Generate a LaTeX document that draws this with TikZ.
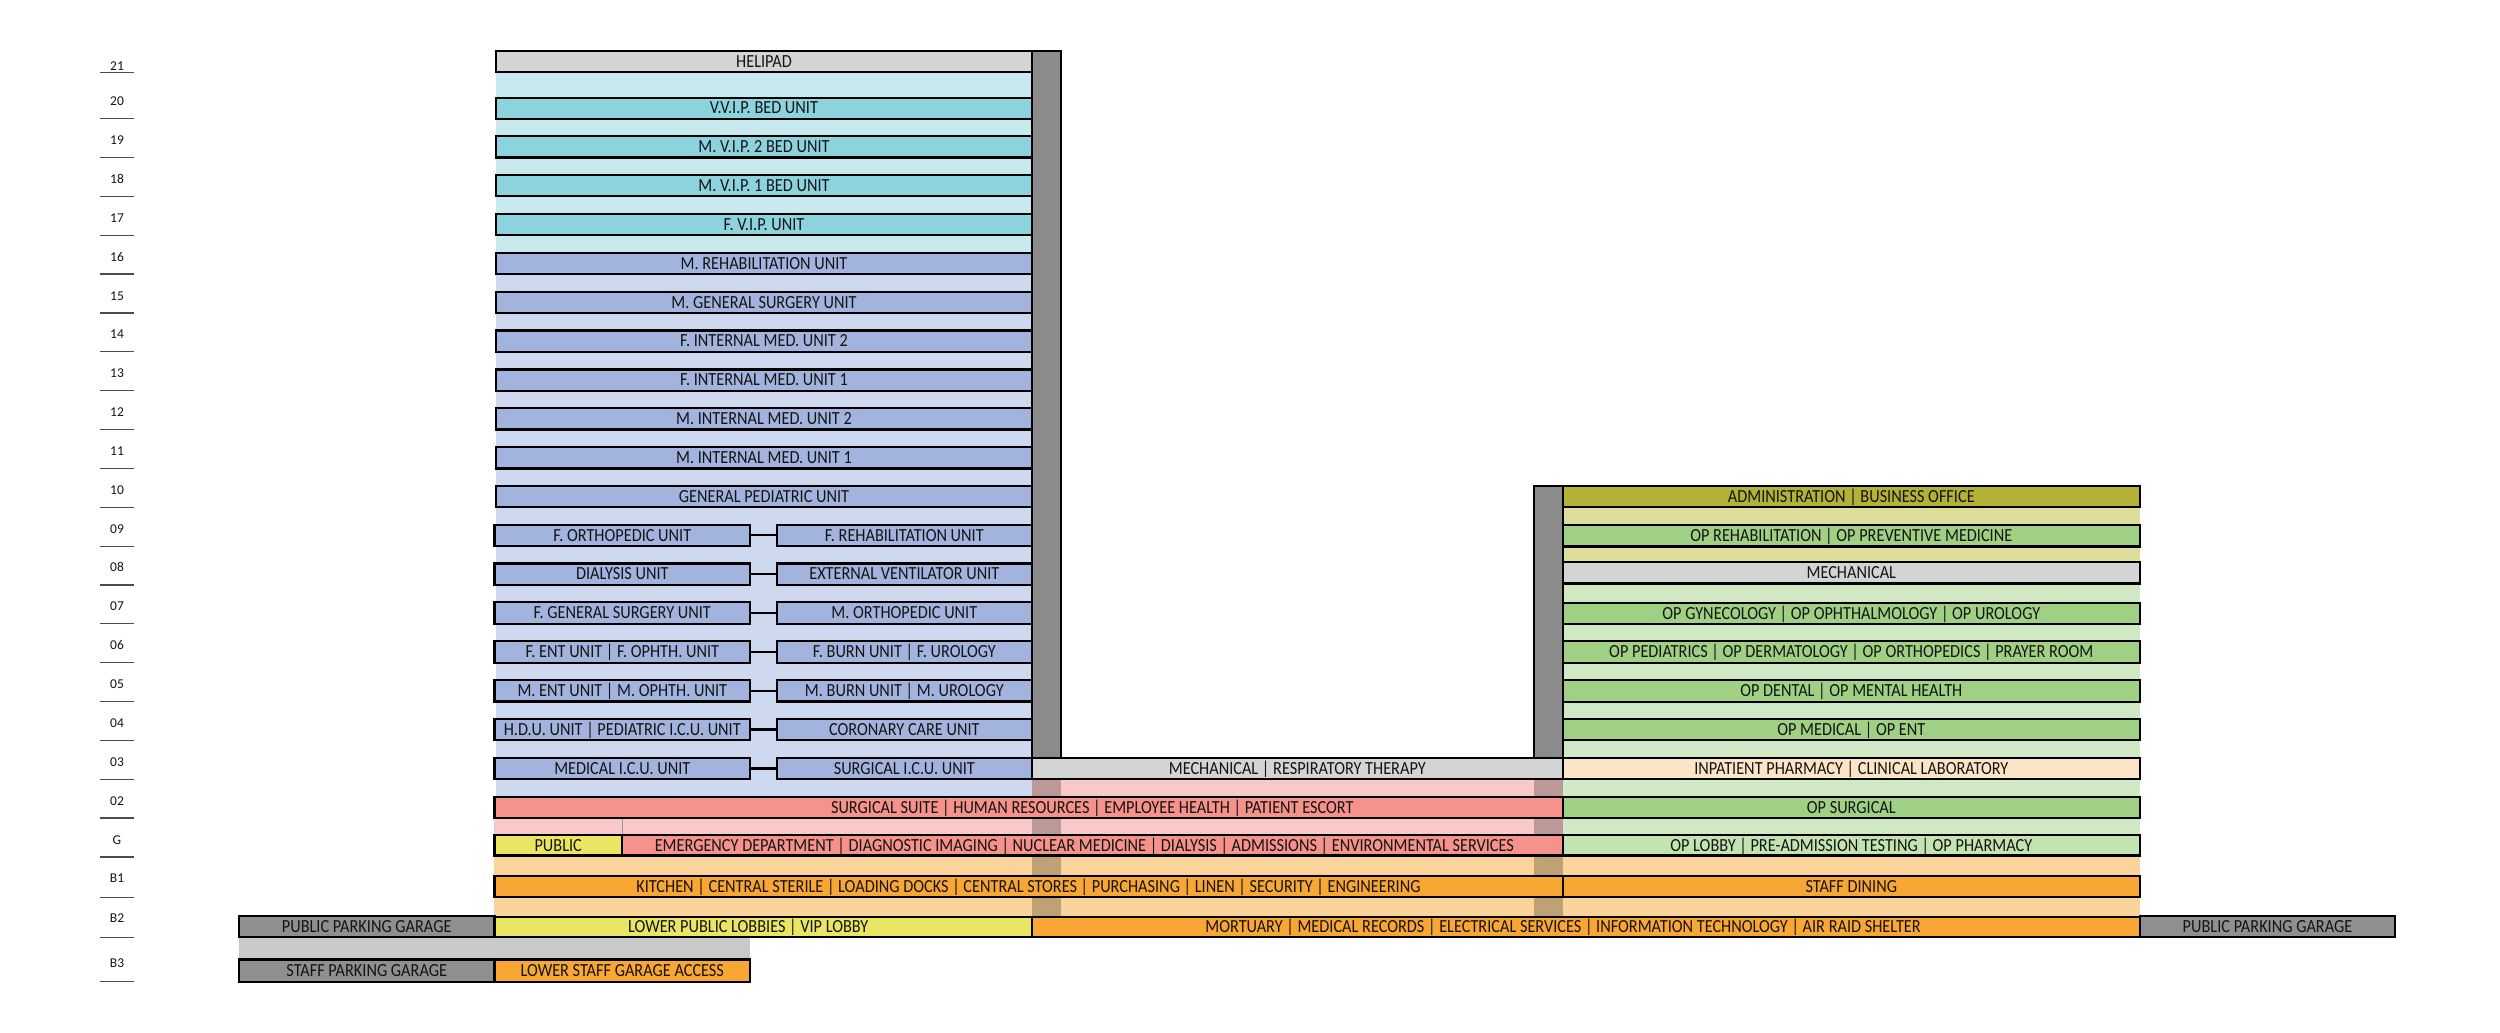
\documentclass[tikz,border=0pt]{standalone}
\usepackage{graphicx}
\usepackage{fontspec}
\setmainfont{Carlito}
\definecolor{cyanbar}{HTML}{8CD3DD}
\definecolor{cyanfill}{HTML}{C8EAEE}
\definecolor{lavbar}{HTML}{A2B3DE}
\definecolor{lavfill}{HTML}{CED9EF}
\definecolor{salmon}{HTML}{F4928B}
\definecolor{pinkfill}{HTML}{F8C9C8}
\definecolor{ylw}{HTML}{EAE664}
\definecolor{orng}{HTML}{F8A634}
\definecolor{lorng}{HTML}{FAD49B}
\definecolor{pgray}{HTML}{8F8F8F}
\definecolor{garfill}{HTML}{C9C9C9}
\definecolor{olive}{HTML}{B4B236}
\definecolor{khaki}{HTML}{DEDD9C}
\definecolor{grn}{HTML}{9FD083}
\definecolor{lgrn}{HTML}{D0E9C4}
\definecolor{lobby}{HTML}{C3E4B1}
\definecolor{peach}{HTML}{FCE4C6}
\definecolor{mech}{HTML}{D4D4D4}
\definecolor{coregray}{HTML}{8B8B8B}
\definecolor{txt}{HTML}{141414}
\newcommand{\mkbar}[7]{%
  \node[barbox,#6,minimum width={#3-#2},minimum height=#5,anchor=south west] (#1) at (#2,#4) {\scalebox{0.88}[1]{#7}};}
\newcommand{\mkfill}[5]{%
  \fill[#5] (#1,#3) rectangle (#2,#4);}
\newcommand{\mklbl}[4]{%
  \node[flbl,minimum height=#3,anchor=south] (#1) at (117,#2) {#4};
  \draw[fline] (#1.south west) -- (#1.south east);}
\begin{document}
\begin{tikzpicture}[x=1pt,y=-1pt,
  barbox/.style={draw=black,line width=2.2pt,inner sep=0pt,outer sep=0pt,
    font=\fontsize{18.5}{21}\selectfont,text=txt,text height=11.5pt,text depth=0pt},
  flbl/.style={inner sep=0pt,outer sep=0pt,minimum width=34,
    font=\fontsize{13.5}{15}\selectfont,text=txt,text height=9pt,text depth=0pt},
  fline/.style={line width=1.2pt,black!70},
  conn/.style={line width=2.2pt,black},
  corebox/.style={draw=black,line width=2pt,fill=coregray},
  coreshade/.style={fill=black,fill opacity=0.24}]
\useasboundingbox (0,0) rectangle (2500,1033);
\fill[white] (0,0) rectangle (2500,1033);
% ---------- floor labels ----------
\mklbl{l21}{72.3}{13}{21}
\mklbl{l20}{118.7}{35}{20}
\mklbl{l19}{157.5}{35}{19}
\mklbl{l18}{196.3}{35}{18}
\mklbl{l17}{235.2}{35}{17}
\mklbl{l16}{274}{35}{16}
\mklbl{l15}{313}{35}{15}
\mklbl{l14}{351.8}{35}{14}
\mklbl{l13}{390.7}{35}{13}
\mklbl{l12}{429.5}{35}{12}
\mklbl{l11}{468.4}{35}{11}
\mklbl{l10}{507.2}{35}{10}
\mklbl{l09}{546.1}{35}{09}
\mklbl{l08}{584.9}{35}{08}
\mklbl{l07}{623.8}{35}{07}
\mklbl{l06}{662.6}{35}{06}
\mklbl{l05}{701.5}{35}{05}
\mklbl{l04}{740.3}{35}{04}
\mklbl{l03}{779.2}{35}{03}
\mklbl{l02}{818}{35}{02}
\mklbl{lG}{857}{35}{G}
\mklbl{lB1}{897.3}{38}{B1}
\mklbl{lB2}{937.3}{38}{B2}
\mklbl{lB3}{981.3}{36}{B3}
% ---------- background fills ----------
\mkfill{496}{1032}{72.3}{253}{cyanfill}
\mkfill{496}{1032}{253}{796.7}{lavfill}
\mkfill{1032}{1562.6}{779}{796.7}{pinkfill}
\mkfill{494}{1562.6}{818}{835}{pinkfill}
\mkfill{1562.6}{2140}{506.7}{561.7}{khaki}
\mkfill{1562.6}{2140}{583.3}{835}{lgrn}
\mkfill{494}{2140}{855}{916.7}{lorng}
\mkfill{239}{750}{937.3}{959.5}{garfill}
\draw[black!40,line width=0.8pt] (622,818) -- (622,835);
% ---------- core shading below podium ----------
\fill[coreshade] (1032,779) rectangle (1061,916.7);
\fill[coreshade] (1534,779) rectangle (1562.6,916.7);
% ---------- cores ----------
\draw[corebox] (1032,50.7) rectangle (1061,757.7);
\draw[corebox] (1534,485.7) rectangle (1562.6,757.7);
% ---------- tower bars ----------
\mkbar{helipad}{496}{1032}{72.3}{21.6}{fill=mech}{HELIPAD}
\mkbar{vvip}{496}{1032}{118.7}{21}{fill=cyanbar}{V.V.I.P. BED UNIT}
\mkbar{mvip2}{496}{1032}{157.5}{21.5}{fill=cyanbar}{M. V.I.P. 2 BED UNIT}
\mkbar{mvip1}{496}{1032}{196.3}{21.5}{fill=cyanbar}{M. V.I.P. 1 BED UNIT}
\mkbar{fvip}{496}{1032}{235.2}{21.5}{fill=cyanbar}{F. V.I.P. UNIT}
\mkbar{mrehab}{496}{1032}{274}{21.2}{fill=lavbar}{M. REHABILITATION UNIT}
\mkbar{mgs}{496}{1032}{313}{21.3}{fill=lavbar}{M. GENERAL SURGERY UNIT}
\mkbar{fim2}{496}{1032}{351.8}{21.3}{fill=lavbar}{F. INTERNAL MED. UNIT 2}
\mkbar{fim1}{496}{1032}{390.7}{21.3}{fill=lavbar}{F. INTERNAL MED. UNIT 1}
\mkbar{mim2}{496}{1032}{429.5}{21.3}{fill=lavbar}{M. INTERNAL MED. UNIT 2}
\mkbar{mim1}{496}{1032}{468.4}{21.3}{fill=lavbar}{M. INTERNAL MED. UNIT 1}
\mkbar{gped}{496}{1032}{507.2}{21.2}{fill=lavbar}{GENERAL PEDIATRIC UNIT}
% split floors
\mkbar{a09}{494.4}{750.2}{546.1}{21.5}{fill=lavbar}{F. ORTHOPEDIC UNIT}
\mkbar{b09}{776.7}{1032}{546.1}{21.5}{fill=lavbar}{F. REHABILITATION UNIT}
\mkbar{a08}{494.4}{750.2}{584.9}{21.5}{fill=lavbar}{DIALYSIS UNIT}
\mkbar{b08}{776.7}{1032}{584.9}{21.5}{fill=lavbar}{EXTERNAL VENTILATOR UNIT}
\mkbar{a07}{494.4}{750.2}{623.8}{21.5}{fill=lavbar}{F. GENERAL SURGERY UNIT}
\mkbar{b07}{776.7}{1032}{623.8}{21.5}{fill=lavbar}{M. ORTHOPEDIC UNIT}
\mkbar{a06}{494.4}{750.2}{662.6}{21.5}{fill=lavbar}{F. ENT UNIT | F. OPHTH. UNIT}
\mkbar{b06}{776.7}{1032}{662.6}{21.5}{fill=lavbar}{F. BURN UNIT | F. UROLOGY}
\mkbar{a05}{494.4}{750.2}{701.5}{21.5}{fill=lavbar}{M. ENT UNIT | M. OPHTH. UNIT}
\mkbar{b05}{776.7}{1032}{701.5}{21.5}{fill=lavbar}{M. BURN UNIT | M. UROLOGY}
\mkbar{a04}{494.4}{750.2}{740.3}{21.5}{fill=lavbar}{H.D.U. UNIT | PEDIATRIC I.C.U. UNIT}
\mkbar{b04}{776.7}{1032}{740.3}{21.5}{fill=lavbar}{CORONARY CARE UNIT}
\mkbar{a03}{494.4}{750.2}{779.2}{21.5}{fill=lavbar}{MEDICAL I.C.U. UNIT}
\mkbar{b03}{776.7}{1032}{779.2}{21.5}{fill=lavbar}{SURGICAL I.C.U. UNIT}
\foreach \f in {09,08,07,06,05,04,03} {\draw[conn] (a\f.east) -- (b\f.west);}
% ---------- podium bars ----------
\mkbar{mechresp}{1032}{1562.6}{779.2}{21.5}{fill=mech}{MECHANICAL | RESPIRATORY THERAPY}
\mkbar{surg}{494.4}{1562.6}{818.3}{21.6}{fill=salmon}{\hspace*{145pt}SURGICAL SUITE | HUMAN RESOURCES | EMPLOYEE HEALTH | PATIENT ESCORT}
\mkbar{public}{494.4}{622}{855.5}{20.5}{fill=ylw}{PUBLIC}
\mkbar{emerg}{622}{1562.6}{855.5}{20.5}{fill=salmon}{EMERGENCY DEPARTMENT | DIAGNOSTIC IMAGING | NUCLEAR MEDICINE | DIALYSIS | ADMISSIONS | ENVIRONMENTAL SERVICES\hspace*{18pt}}
\mkbar{kitchen}{494.4}{1562.6}{896.7}{20.7}{fill=orng}{KITCHEN | CENTRAL STERILE | LOADING DOCKS | CENTRAL STORES | PURCHASING | LINEN | SECURITY | ENGINEERING}
\mkbar{lobbies}{494.4}{1032}{937.3}{20.6}{fill=ylw}{LOWER PUBLIC LOBBIES | VIP LOBBY\hspace*{34pt}}
\mkbar{mortuary}{1032}{2140}{937.3}{20.6}{fill=orng}{MORTUARY | MEDICAL RECORDS | ELECTRICAL SERVICES | INFORMATION TECHNOLOGY | AIR RAID SHELTER\hspace*{52pt}}
\mkbar{ppgl}{239}{494.4}{937.3}{21.3}{fill=pgray}{PUBLIC PARKING GARAGE}
\mkbar{ppgr}{2140}{2395}{937.3}{21.3}{fill=pgray}{PUBLIC PARKING GARAGE}
\mkbar{spg}{239}{494.4}{981.8}{22.3}{fill=pgray}{STAFF PARKING GARAGE}
\mkbar{lsga}{494.4}{750.2}{981.8}{22.3}{fill=orng}{LOWER STAFF GARAGE ACCESS}
% ---------- outpatient block ----------
\mkbar{admin}{1562.6}{2140}{507}{21.2}{fill=olive}{ADMINISTRATION | BUSINESS OFFICE}
\mkbar{oprehab}{1562.6}{2140}{546.4}{21.5}{fill=grn}{OP REHABILITATION | OP PREVENTIVE MEDICINE}
\mkbar{opmech}{1562.6}{2140}{583.5}{21.7}{fill=mech}{MECHANICAL}
\mkbar{opgyn}{1562.6}{2140}{624}{21.4}{fill=grn}{OP GYNECOLOGY | OP OPHTHALMOLOGY | OP UROLOGY}
\mkbar{opped}{1562.6}{2140}{663}{21.7}{fill=grn}{OP PEDIATRICS | OP DERMATOLOGY | OP ORTHOPEDICS | PRAYER ROOM}
\mkbar{opdent}{1562.6}{2140}{701.6}{21.6}{fill=grn}{OP DENTAL | OP MENTAL HEALTH}
\mkbar{opmed}{1562.6}{2140}{740.2}{21.5}{fill=grn}{OP MEDICAL | OP ENT}
\mkbar{pharm}{1562.6}{2140}{779.2}{21.5}{fill=peach}{INPATIENT PHARMACY | CLINICAL LABORATORY}
\mkbar{opsurg}{1562.6}{2140}{818.3}{21.6}{fill=grn}{OP SURGICAL}
\mkbar{oplobby}{1562.6}{2140}{855.5}{20.5}{fill=lobby}{OP LOBBY | PRE-ADMISSION TESTING | OP PHARMACY}
\mkbar{dining}{1562.6}{2140}{896.7}{20.7}{fill=orng}{STAFF DINING}
\end{tikzpicture}
\end{document}
